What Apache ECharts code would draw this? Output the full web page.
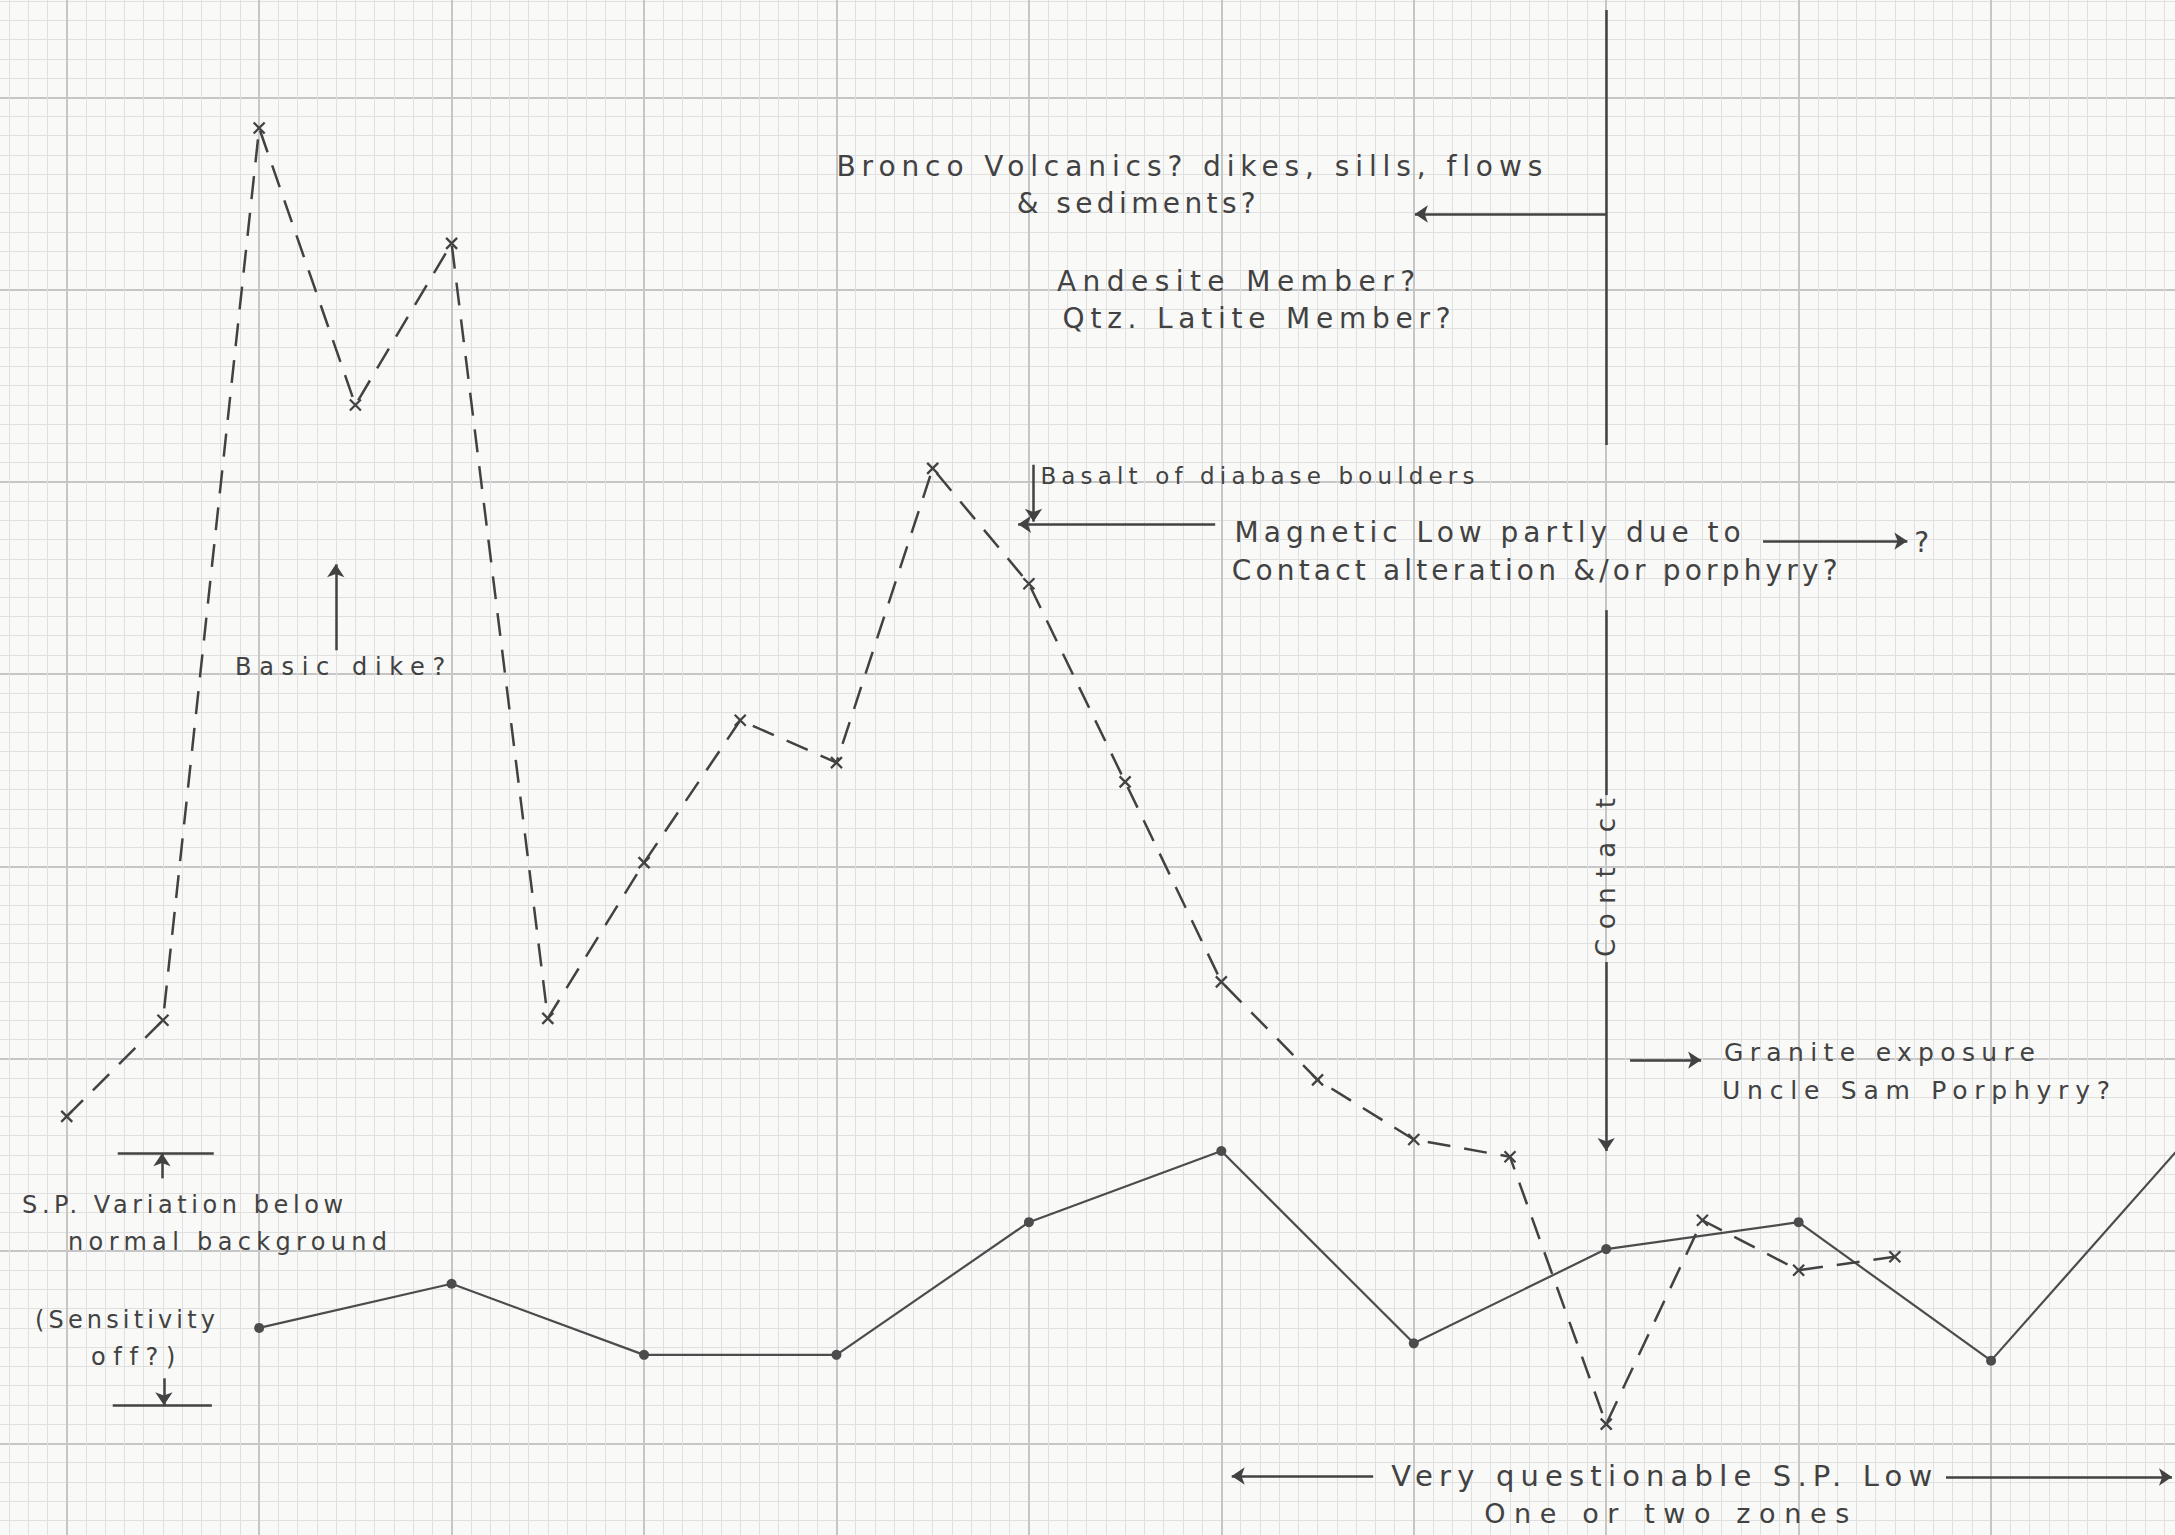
<!DOCTYPE html>
<html>
<head>
<meta charset="utf-8">
<script src="https://cdn.jsdelivr.net/npm/echarts@6/dist/echarts.min.js"></script>
<style>
  html, body { margin: 0; padding: 0; background: #f9f9f8; }
  #chart { width: 2175px; height: 1535px; }
</style>
</head>
<body>
<div id="chart"></div>
<script>
// ---------------- DATA (grid units) ----------------
// Magnetic profile (dashed line, "x" marks)
const magStations = [0, 0.5, 1, 1.5, 2, 2.5, 3, 3.5, 4, 4.5, 5, 5.5, 6, 6.5, 7, 7.5, 8, 8.5, 9, 9.5];
const magValues   = [1.70, 2.20, 6.84, 5.40, 6.24, 2.21, 3.02, 3.76, 3.54, 5.07, 4.47, 3.44, 2.40, 1.89, 1.58, 1.49, 0.10, 1.16, 0.90, 0.97];
// S.P. profile (solid line, dots)
const spStations = [1, 2, 3, 4, 5, 6, 7, 8, 9, 10, 11];
const spValues   = [0.60, 0.83, 0.46, 0.46, 1.15, 1.52, 0.52, 1.01, 1.15, 0.43, 1.56];

// ---------------- ANNOTATIONS (layout, in grid units) ----------------
const notes = [
  { text: 'Bronco Volcanics? dikes, sills, flows', at: [4.00, 6.64], size: 28, width: 706 },
  { text: '& sediments?', at: [4.937, 6.446], size: 28, width: 239 },
  { text: 'Andesite Member?', at: [5.146, 6.041], size: 28, width: 358 },
  { text: 'Qtz. Latite Member?', at: [5.175, 5.847], size: 28, width: 388 },
  { text: 'Basalt of diabase boulders', at: [5.06, 5.031], size: 23, width: 434 },
  { text: 'Magnetic Low partly due to', at: [6.069, 4.736], size: 28, width: 506 },
  { text: '?', at: [9.601, 4.685], size: 28 },
  { text: 'Contact alteration &/or porphyry?', at: [6.054, 4.541], size: 28, width: 606 },
  { text: 'Basic dike?', at: [0.875, 4.037], size: 24, width: 210 },
  { text: 'S.P. Variation below', at: [-0.232, 1.239], size: 24, width: 321 },
  { text: 'normal background', at: [0.007, 1.047], size: 24, width: 319 },
  { text: '(Sensitivity', at: [-0.165, 0.641], size: 24, width: 180 },
  { text: 'off?)', at: [0.126, 0.449], size: 24, width: 84 },
  { text: 'Granite exposure', at: [8.612, 2.03], size: 25, width: 311 },
  { text: 'Uncle Sam Porphyry?', at: [8.602, 1.837], size: 25, width: 388 },
  { text: 'Very questionable S.P. Low', at: [6.883, -0.17], size: 29, width: 541 },
  { text: 'One or two zones', at: [7.366, -0.364], size: 27, width: 365 },
  { text: 'Contact', at: [8.0, 2.529], size: 26, width: 159, rotate: true }
];
const guideLines = [
  [[8.0, 7.454], [8.0, 5.192]],
  [[8.0, 4.333], [8.0, 3.371]],
  [[0.265, 1.508], [0.764, 1.508]],
  [[0.239, 0.198], [0.754, 0.198]]
];
const arrowLines = [
  [[8.0, 2.503], [8.0, 1.52]],
  [[8.0, 6.393], [7.006, 6.393]],
  [[5.024, 5.089], [5.024, 4.793]],
  [[5.968, 4.779], [4.944, 4.779]],
  [[8.815, 4.692], [9.565, 4.692]],
  [[1.398, 4.124], [1.398, 4.571]],
  [[0.495, 1.378], [0.495, 1.508]],
  [[0.505, 0.338], [0.505, 0.198]],
  [[8.124, 1.993], [8.493, 1.993]],
  [[6.789, -0.17], [6.054, -0.17]],
  [[9.766, -0.175], [10.94, -0.175]]
];

// ---------------- CHART ----------------
const INK = '#424242';
const FONT = 'DejaVu Sans';
const chart = echarts.init(document.getElementById('chart'), null, { renderer: 'svg', width: 2175, height: 1535 });

function paperAxis(min, max) {
  return {
    type: 'value', min: min, max: max, interval: 1,
    axisLine: { show: false }, axisTick: { show: false }, axisLabel: { show: false },
    splitLine: { show: true, lineStyle: { color: '#c6c6c6', width: 2 } },
    minorTick: { show: false, splitNumber: 10 },
    minorSplitLine: { show: true, lineStyle: { color: '#e0e0e0', width: 1 } }
  };
}

chart.setOption({
  animation: false,
  backgroundColor: '#f9f9f8',
  grid: { left: -125.7, right: -8.5, top: -95.0, bottom: -100.6, containLabel: false, outerBoundsMode: 'none' },
  xAxis: paperAxis(-1, 11),
  yAxis: paperAxis(-1, 8),
  series: [
    {
      type: 'line', name: 'Magnetic',
      data: magStations.map((x, i) => [x, magValues[i]]),
      symbol: 'path://M0,0L10,10M10,0L0,10', symbolSize: 11, showAllSymbol: true,
      lineStyle: { color: INK, width: 2.5, type: [23, 14] },
      itemStyle: { color: 'none', borderColor: INK, borderWidth: 2.3 },
      silent: true, z: 4
    },
    {
      type: 'line', name: 'S.P.',
      data: spStations.map((x, i) => [x, spValues[i]]),
      symbol: 'circle', symbolSize: 10, showAllSymbol: true,
      lineStyle: { color: '#4c4c4c', width: 2.2 },
      itemStyle: { color: '#4c4c4c' },
      silent: true, z: 3
    },
    {
      type: 'lines', coordinateSystem: 'cartesian2d',
      data: guideLines.map(c => ({ coords: c })),
      symbol: ['none', 'none'],
      lineStyle: { color: INK, width: 2.5, opacity: 1, curveness: 0 },
      silent: true, z: 3
    },
    {
      type: 'lines', coordinateSystem: 'cartesian2d',
      data: arrowLines.map(c => ({ coords: c })),
      symbol: ['none', 'arrow'], symbolSize: 13,
      lineStyle: { color: INK, width: 2.5, opacity: 1, curveness: 0 },
      itemStyle: { color: INK },
      silent: true, z: 3
    }
  ]
});

chart.setOption({
  graphic: notes.map(n => {
    const p = chart.convertToPixel({ gridIndex: 0 }, n.at);
    return {
      type: 'text', x: p[0], y: p[1], rotation: n.rotate ? Math.PI / 2 : 0, silent: true, z: 10,
      style: {
        text: n.text, fontSize: n.size, fontFamily: FONT, fill: INK,
        align: 'left', verticalAlign: 'middle', textAlign: 'left', textVerticalAlign: 'middle'
      }
    };
  })
});

const noteIndex = {};
notes.forEach(n => { noteIndex[n.text] = n; });
function applySpacing() {
  chart.getDom().querySelectorAll('text').forEach(el => {
    const n = noteIndex[el.textContent];
    if (!n || !n.width || n.text.length < 2) return;
    el.style.letterSpacing = '0px';
    const natural = el.getComputedTextLength();
    const sp = (n.width - natural) / (n.text.length - 1);
    el.style.letterSpacing = sp.toFixed(2) + 'px';
  });
}
applySpacing();
chart.on('finished', applySpacing);
</script>
</body>
</html>
